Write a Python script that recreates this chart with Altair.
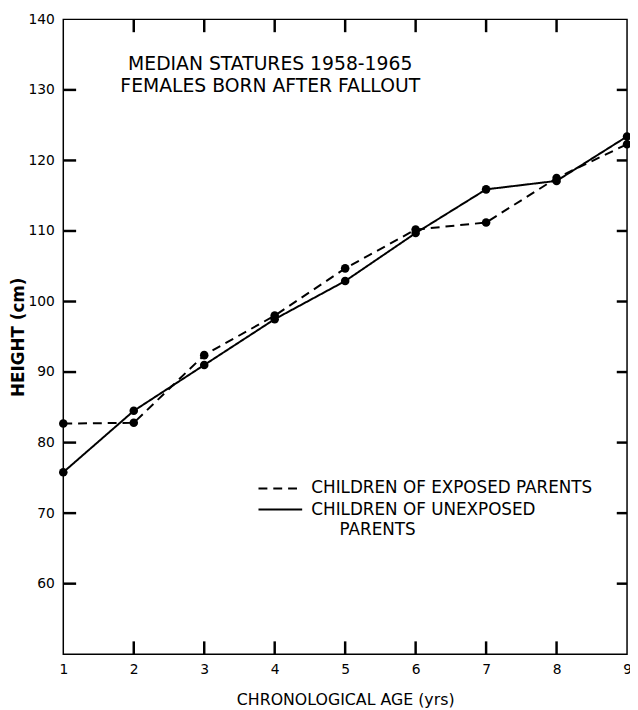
import altair as alt
import pandas as pd

# ---- data ----
ages = [1, 2, 3, 4, 5, 6, 7, 8, 9]
exposed_heights = [82.7, 82.8, 92.4, 98.0, 104.7, 110.2, 111.2, 117.5, 122.3]
unexposed_heights = [75.8, 84.5, 91.0, 97.5, 102.9, 109.7, 115.9, 117.1, 123.4]
series_names = ["exposed", "unexposed"]

x_tick_values = [1, 2, 3, 4, 5, 6, 7, 8, 9]
y_tick_values = [60, 70, 80, 90, 100, 110, 120, 130, 140]
inner_x_ticks = [2, 3, 4, 5, 6, 7, 8]
inner_y_ticks = [60, 70, 80, 90, 100, 110, 120, 130]

title_lines = ["MEDIAN STATURES 1958-1965", "FEMALES BORN AFTER FALLOUT"]
legend_texts = ["CHILDREN OF EXPOSED PARENTS", "CHILDREN OF UNEXPOSED", "PARENTS"]

# ---- layout ----
W, H = 571, 643
X_DOM = [1, 9]
Y_DOM = [50, 140]
TICK_PX = 13
FONT = "DejaVu Sans"

dx = TICK_PX * (X_DOM[1] - X_DOM[0]) / W
dy = TICK_PX * (Y_DOM[1] - Y_DOM[0]) / H

df = pd.DataFrame({
    "age": ages * 2,
    "height": exposed_heights + unexposed_heights,
    "series": [series_names[0]] * len(ages) + [series_names[1]] * len(ages),
})

legend_line_df = pd.DataFrame({
    "x": [3.77, 4.39, 3.77, 4.39],
    "y": [73.5, 73.5, 70.5, 70.5],
    "series": [series_names[0]] * 2 + [series_names[1]] * 2,
})
legend_text_df = pd.DataFrame({
    "x": [4.52, 4.52, 4.92],
    "y": [73.5, 70.5, 67.6],
    "text": legend_texts,
})
title_df = pd.DataFrame({
    "x": [1.92, 1.81],
    "y": [133.6, 130.5],
    "text": title_lines,
})

# inward tick segments: bottom, top, left, right
tick_seg_df = pd.DataFrame({
    "xa": inner_x_ticks + inner_x_ticks
          + [X_DOM[0]] * len(inner_y_ticks) + [X_DOM[1]] * len(inner_y_ticks),
    "xb": inner_x_ticks + inner_x_ticks
          + [X_DOM[0] + dx] * len(inner_y_ticks) + [X_DOM[1] - 0.8 * dx] * len(inner_y_ticks),
    "ya": [Y_DOM[0]] * len(inner_x_ticks) + [Y_DOM[1]] * len(inner_x_ticks)
          + inner_y_ticks + inner_y_ticks,
    "yb": [Y_DOM[0] + dy] * len(inner_x_ticks) + [Y_DOM[1] - dy] * len(inner_x_ticks)
          + inner_y_ticks + inner_y_ticks,
})

x_scale = alt.Scale(domain=X_DOM, nice=False, zero=False)
y_scale = alt.Scale(domain=Y_DOM, nice=False, zero=False)
dash_scale = alt.Scale(domain=series_names, range=[[9, 6], [1, 0]])

lines = alt.Chart(df).mark_line(color="black", strokeWidth=2).encode(
    x=alt.X("age:Q", scale=x_scale,
            axis=alt.Axis(orient="bottom", values=x_tick_values, ticks=False, domain=False,
                          grid=False, labelPadding=9, labelFlush=False, format="d",
                          title="CHRONOLOGICAL AGE (yrs)", titlePadding=15)),
    y=alt.Y("height:Q", scale=y_scale,
            axis=alt.Axis(orient="left", values=y_tick_values, ticks=False, domain=False,
                          grid=False, labelPadding=9, labelFlush=False, format="d",
                          title="HEIGHT (cm)", titlePadding=1, titleFontWeight="bold",
                          titleFontSize=17)),
    strokeDash=alt.StrokeDash("series:N", scale=dash_scale, legend=None),
)

points = alt.Chart(df).mark_circle(size=75, color="black", opacity=1).encode(
    x=alt.X("age:Q", scale=x_scale),
    y=alt.Y("height:Q", scale=y_scale),
)

ticks = alt.Chart(tick_seg_df).mark_rule(stroke="#000000", strokeWidth=2.5, opacity=1).encode(
    x=alt.X("xa:Q", scale=x_scale),
    x2="xb:Q",
    y=alt.Y("ya:Q", scale=y_scale),
    y2="yb:Q",
)

legend_lines = alt.Chart(legend_line_df).mark_line(color="black", strokeWidth=2).encode(
    x=alt.X("x:Q", scale=x_scale),
    y=alt.Y("y:Q", scale=y_scale),
    strokeDash=alt.StrokeDash("series:N", scale=dash_scale, legend=None),
)

legend_text = alt.Chart(legend_text_df).mark_text(
    align="left", baseline="middle", font=FONT, fontSize=17, color="black"
).encode(
    x=alt.X("x:Q", scale=x_scale),
    y=alt.Y("y:Q", scale=y_scale),
    text="text:N",
)

title_text = alt.Chart(title_df).mark_text(
    align="left", baseline="middle", font=FONT, fontSize=19, color="black"
).encode(
    x=alt.X("x:Q", scale=x_scale),
    y=alt.Y("y:Q", scale=y_scale),
    text="text:N",
)

chart = alt.layer(
    lines, points, ticks, legend_lines, legend_text, title_text
).properties(
    width=W, height=H,
    autosize=alt.AutoSizeParams(type="none"),
    padding={"left": 56, "top": 7, "right": 3, "bottom": 52},
    background="white",
).configure_view(
    stroke="black", strokeWidth=1.5
).configure_axis(
    labelFont=FONT, labelFontSize=14, labelColor="black",
    titleFont=FONT, titleFontSize=16, titleColor="black", titleFontWeight="normal",
    tickColor="black",
)

chart.save("out.html", embed_options={"renderer": "svg", "actions": False})
